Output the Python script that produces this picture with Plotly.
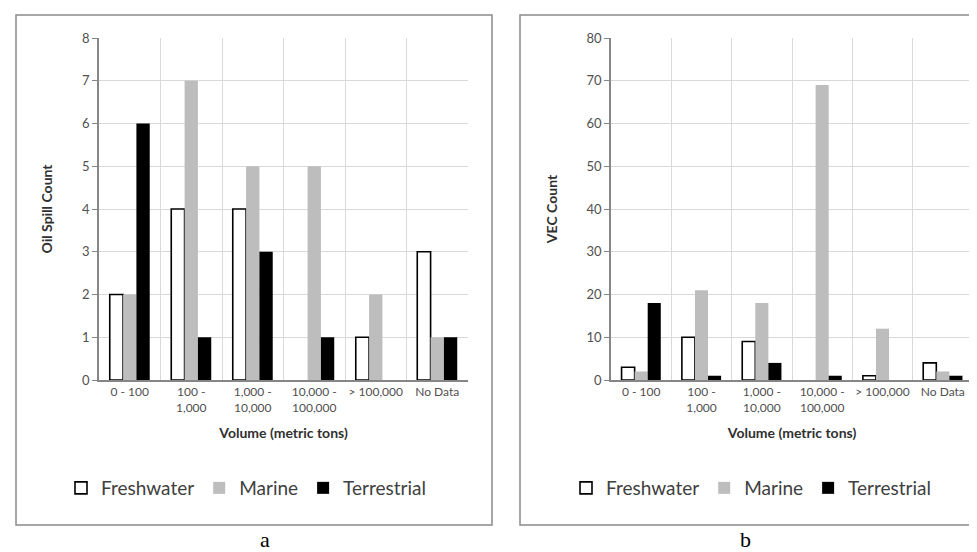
import plotly.graph_objects as go

categories = ["0 - 100", "100 -<br>1,000", "1,000 -<br>10,000", "10,000 -<br>100,000", "> 100,000", "No Data"]
series_names = ["Freshwater", "Marine", "Terrestrial"]

# Panel a: oil spill counts
spill_freshwater = [2, 4, 4, 0, 1, 3]
spill_marine = [2, 7, 5, 5, 2, 1]
spill_terrestrial = [6, 1, 3, 1, 0, 1]

# Panel b: VEC counts
vec_freshwater = [3, 10, 9, 0, 1, 4]
vec_marine = [2, 21, 18, 69, 12, 2]
vec_terrestrial = [18, 1, 4, 1, 0, 1]

y_title_a = "Oil Spill Count"
y_title_b = "VEC Count"
x_title = "Volume (metric tons)"
captions = ["a", "b"]

W, H = 977, 552
FONT = "Lato, 'Open Sans', sans-serif"
GRID = "#d9d9d9"
AXIS = "#868686"
TICKC = "#505050"
TITLEC = "#303030"

colors = {"Freshwater": "white", "Marine": "#bdbdbd", "Terrestrial": "black"}
outline = {"Freshwater": ("black", 1.6), "Marine": ("#bdbdbd", 0), "Terrestrial": ("black", 0)}

fig = go.Figure()

for xa, ya, lg, vals in [
    ("x", "y", "legend", [spill_freshwater, spill_marine, spill_terrestrial]),
    ("x2", "y2", "legend2", [vec_freshwater, vec_marine, vec_terrestrial]),
]:
    for name, v in zip(series_names, vals):
        lc, lw = outline[name]
        # no outline for empty (zero) bars, as in the reference
        widths = [lw if val > 0 else 0 for val in v]
        fig.add_trace(go.Bar(
            x=categories, y=v, name=name,
            marker=dict(color=colors[name], line=dict(color=lc, width=widths)),
            xaxis=xa, yaxis=ya, legend=lg, showlegend=True,
        ))

def px_x(p):
    return p / W

def px_y(p):
    return 1 - p / H

ydom = [px_y(372), px_y(30)]

xaxis_common = dict(
    type="category", tickson="boundaries", showgrid=True, gridcolor=GRID, gridwidth=1.3,
    showline=True, linecolor=AXIS, linewidth=1.5, ticks="", ticklabelstandoff=0, tickangle=0,
    tickfont=dict(family=FONT, size=12, color=TICKC), automargin=False,
    title=dict(text=x_title, font=dict(family=FONT, size=14, color=TITLEC, weight="bold"), standoff=14),
    fixedrange=True,
)
yaxis_common = dict(
    showgrid=True, gridcolor=GRID, gridwidth=1.3, showline=True, linecolor=AXIS, linewidth=1.5,
    ticks="outside", ticklen=5, tickcolor=AXIS, tickwidth=1.3, zeroline=False,
    tickfont=dict(family=FONT, size=13, color=TICKC), automargin=False, fixedrange=True,
)

fig.update_layout(
    width=W, height=H, template="none",
    paper_bgcolor="white", plot_bgcolor="white",
    margin=dict(l=0, r=0, t=0, b=0, autoexpand=False),
    barmode="group", bargap=0.35, bargroupgap=0.0,
    font=dict(family=FONT),
    xaxis=dict(xaxis_common, domain=[px_x(91), px_x(460)], anchor="y"),
    yaxis=dict(yaxis_common, domain=ydom, anchor="x", range=[0, 8], dtick=1,
               title=dict(text=y_title_a, font=dict(family=FONT, size=14, color=TITLEC, weight="bold"), standoff=26)),
    xaxis2=dict(xaxis_common, domain=[px_x(603), px_x(965)], anchor="y2"),
    yaxis2=dict(yaxis_common, domain=ydom, anchor="x2", range=[0, 80], dtick=10,
                title=dict(text=y_title_b, font=dict(family=FONT, size=14, color=TITLEC, weight="bold"), standoff=26)),
    legend=dict(orientation="h", x=px_x(238), xanchor="center", y=px_y(480), yanchor="middle",
                font=dict(family=FONT, size=19, color="#404040"), bgcolor="rgba(0,0,0,0)"),
    legend2=dict(orientation="h", x=px_x(743), xanchor="center", y=px_y(480), yanchor="middle",
                 font=dict(family=FONT, size=19, color="#404040"), bgcolor="rgba(0,0,0,0)"),
    shapes=[
        dict(type="rect", xref="paper", yref="paper", x0=px_x(8), x1=px_x(484), y0=px_y(517), y1=px_y(7),
             line=dict(color="#8a8a8a", width=1.5), layer="below"),
        dict(type="rect", xref="paper", yref="paper", x0=px_x(512), x1=px_x(976), y0=px_y(517), y1=px_y(7),
             line=dict(color="#8a8a8a", width=1.5), layer="below"),
    ],
    annotations=[
        dict(text=captions[0], xref="paper", yref="paper", x=px_x(257), y=px_y(531), showarrow=False,
             font=dict(family="Liberation Serif, Times New Roman, serif", size=22, color="black"),
             xanchor="center", yanchor="middle"),
        dict(text=captions[1], xref="paper", yref="paper", x=px_x(737), y=px_y(531), showarrow=False,
             font=dict(family="Liberation Serif, Times New Roman, serif", size=22, color="black"),
             xanchor="center", yanchor="middle"),
    ],
)

fig.write_html("out.html")
